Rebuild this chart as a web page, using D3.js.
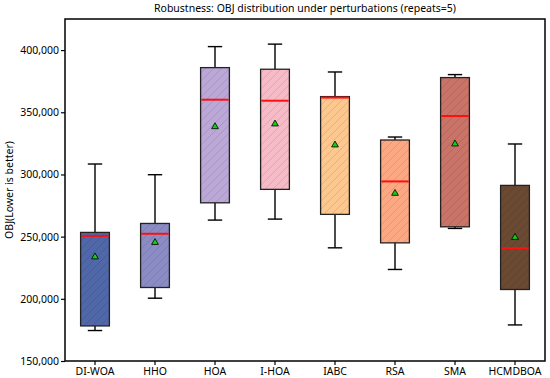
<!DOCTYPE html>
<html>
<head>
<meta charset="utf-8">
<style>
  body { margin: 0; background: #fff; }
  svg { font-family: "Noto Sans", "Open Sans", sans-serif; }
</style>
<script src="https://cdn.jsdelivr.net/npm/d3@7"></script>
</head>
<body>
<svg id="chart" width="550" height="378"></svg>
<script>
// data
var algorithms = ["DI-WOA", "HHO", "HOA", "I-HOA", "IABC", "RSA", "SMA", "HCMDBOA"];
var whiskerLow  = [174500, 200500, 263300, 264100, 241000, 223600, 256600, 179000];
var boxLow      = [178200, 209100, 277200, 288000, 267900, 245000, 257900, 207500];
var medians     = [250600, 252300, 360100, 359300, 361800, 294400, 347000, 240700];
var boxHigh     = [253400, 260600, 385900, 384600, 362600, 327700, 377900, 291200];
var whiskerHigh = [308400, 299800, 402800, 404800, 382400, 330100, 380300, 324500];
var means       = [233700, 245300, 338400, 340600, 323700, 284800, 324500, 249400];
var boxColors   = ["#5068a8", "#8c8cc4", "#bca8d6", "#f5bcc8", "#fcc890", "#fca882", "#c87468", "#6b4a34"];
var yTicks = [150000, 200000, 250000, 300000, 350000, 400000];

var margin = {top: 19, right: 5, bottom: 17, left: 65};
var svg = d3.select("#chart");
var W = 550, H = 378;
var iw = W - margin.left - margin.right, ih = H - margin.top - margin.bottom;

var rows = algorithms.map(function(a, i) {
  return {name: a, wl: whiskerLow[i], q1: boxLow[i], med: medians[i], q3: boxHigh[i], wh: whiskerHigh[i], mean: means[i], color: boxColors[i], i: i};
});

var x = d3.scaleBand().domain(algorithms).range([0, iw]).paddingInner(0).paddingOuter(0);
var y = d3.scaleLinear().domain([150000, 425000]).range([ih, 0]);

// hatch patterns
var defs = svg.append("defs");
rows.forEach(function(d) {
  var p = defs.append("pattern")
    .attr("id", "hatch" + d.i)
    .attr("patternUnits", "userSpaceOnUse")
    .attr("width", 8).attr("height", 8);
  p.append("rect").attr("width", 8).attr("height", 8).attr("fill", d.color);
  p.append("path")
    .attr("d", "M-2,2 L2,-2 M0,8 L8,0 M6,10 L10,6")
    .attr("stroke", "#000").attr("stroke-opacity", 0.18).attr("stroke-width", 0.6);
});

var g = svg.append("g").attr("transform", "translate(" + margin.left + "," + margin.top + ")");

svg.append("text")
  .attr("x", margin.left + iw / 2).attr("y", 12)
  .attr("text-anchor", "middle").attr("font-size", 10.5)
  .text("Robustness: OBJ distribution under perturbations (repeats=5)");

var bw = x.bandwidth() * 0.48;
var cap = bw / 2;

var box = g.selectAll("g.box").data(rows).enter().append("g")
  .attr("class", "box")
  .attr("transform", function(d) { return "translate(" + (x(d.name) + x.bandwidth() / 2) + ",0)"; });

box.append("line")
  .attr("x1", 0).attr("x2", 0)
  .attr("y1", function(d) { return y(d.wh); }).attr("y2", function(d) { return y(d.q3); })
  .attr("stroke", "#000").attr("stroke-width", 1.4);
box.append("line")
  .attr("x1", 0).attr("x2", 0)
  .attr("y1", function(d) { return y(d.q1); }).attr("y2", function(d) { return y(d.wl); })
  .attr("stroke", "#000").attr("stroke-width", 1.4);
box.append("line")
  .attr("x1", -cap / 2).attr("x2", cap / 2)
  .attr("y1", function(d) { return y(d.wh); }).attr("y2", function(d) { return y(d.wh); })
  .attr("stroke", "#000").attr("stroke-width", 1.4);
box.append("line")
  .attr("x1", -cap / 2).attr("x2", cap / 2)
  .attr("y1", function(d) { return y(d.wl); }).attr("y2", function(d) { return y(d.wl); })
  .attr("stroke", "#000").attr("stroke-width", 1.4);

box.append("rect")
  .attr("x", -bw / 2).attr("width", bw)
  .attr("y", function(d) { return y(d.q3); })
  .attr("height", function(d) { return y(d.q1) - y(d.q3); })
  .attr("fill", function(d) { return "url(#hatch" + d.i + ")"; })
  .attr("stroke", "#222").attr("stroke-width", 1.3);

box.append("line")
  .attr("x1", -bw / 2 + 0.7).attr("x2", bw / 2 - 0.7)
  .attr("y1", function(d) { return y(d.med); }).attr("y2", function(d) { return y(d.med); })
  .attr("stroke", "#ff1010").attr("stroke-width", 2);

var tri = d3.symbol().type(d3.symbolTriangle).size(20);
box.append("path")
  .attr("d", tri)
  .attr("transform", function(d) { return "translate(0," + y(d.mean) + ")"; })
  .attr("fill", "#10d010").attr("stroke", "#000").attr("stroke-width", 0.8);

// axes
var yAxis = g.append("g")
  .call(d3.axisLeft(y).tickValues(yTicks).tickFormat(d3.format(",")).tickSize(4).tickPadding(2));
var xAxis = g.append("g")
  .attr("transform", "translate(0," + ih + ")")
  .call(d3.axisBottom(x).tickSize(4).tickPadding(3));
[yAxis, xAxis].forEach(function(a) {
  a.select(".domain").remove();
  a.selectAll("text").attr("font-size", 10.5).attr("fill", "#000").attr("font-family", "\"Noto Sans\", sans-serif");
  a.selectAll("line").attr("stroke", "#000").attr("stroke-width", 1.2);
});

g.append("rect")
  .attr("width", iw).attr("height", ih)
  .attr("fill", "none").attr("stroke", "#000").attr("stroke-width", 1.5);

svg.append("text")
  .attr("transform", "translate(10," + (margin.top + ih / 2) + ") rotate(-90)")
  .attr("text-anchor", "middle").attr("dominant-baseline", "middle").attr("font-size", 10.5)
  .text("OBJ(Lower is better)");
</script>
</body>
</html>
